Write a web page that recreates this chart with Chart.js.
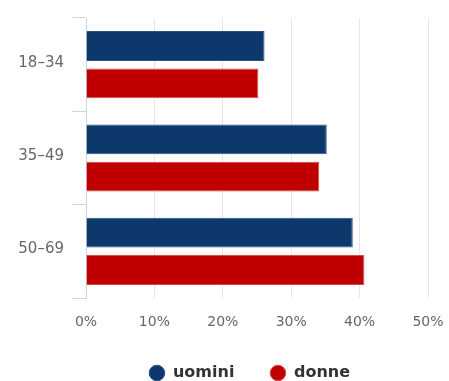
<!DOCTYPE html>
<html>
<head>
<meta charset="utf-8">
<script src="https://cdn.jsdelivr.net/npm/chart.js@4.4.1/dist/chart.umd.min.js"></script>
<style>
  html, body { margin: 0; padding: 0; background: #ffffff; }
  #wrap { width: 449px; height: 381px; position: relative; }
</style>
</head>
<body>
<div id="wrap"><canvas id="chart" width="449" height="381"></canvas></div>
<script>
// Age groups on the category axis
const ageGroups = ['18\u201334', '35\u201349', '50\u201369'];

// Shares per group, in percent
const menValues = [26.1, 35.2, 39.0];
const womenValues = [25.2, 34.1, 40.7];

// Percent axis ticks
const percentTicks = [0, 10, 20, 30, 40, 50];

const seriesNames = ['uomini', 'donne'];

const FONT = '"DejaVu Sans", Verdana, sans-serif';

// Nudge the legend row so it sits centred under the plot rather than the canvas
const legendShift = {
  id: 'legendShift',
  afterLayout(chart) {
    if (chart.legend) chart.legend.left += 71;
  }
};

new Chart(document.getElementById('chart'), {
  type: 'bar',
  data: {
    labels: ageGroups,
    datasets: [
      {
        label: seriesNames[0],
        data: menValues,
        backgroundColor: '#0c386c',
        borderColor: '#2f5286',
        borderWidth: 1,
        categoryPercentage: 0.8,
        barPercentage: 0.8
      },
      {
        label: seriesNames[1],
        data: womenValues,
        backgroundColor: '#c00000',
        borderColor: '#d84a4a',
        borderWidth: 1,
        categoryPercentage: 0.8,
        barPercentage: 0.8
      }
    ]
  },
  plugins: [legendShift],
  options: {
    indexAxis: 'y',
    responsive: false,
    animation: false,
    devicePixelRatio: 1,
    layout: { padding: { top: 18, right: 21, left: 0, bottom: -10 } },
    plugins: {
      tooltip: { enabled: false },
      title: { display: false },
      legend: {
        position: 'bottom',
        labels: {
          usePointStyle: true,
          pointStyle: 'circle',
          boxWidth: 16,
          boxHeight: 11,
          padding: 35.6,
          color: '#333333',
          font: { family: FONT, size: 16, weight: 'bold' }
        }
      }
    },
    scales: {
      x: {
        min: 0,
        max: 50,
        afterBuildTicks: (scale) => {
          scale.ticks = percentTicks.map(v => ({ value: v }));
        },
        grid: {
          color: (ctx) => (ctx.tick && ctx.tick.value === 0) ? 'rgba(0,0,0,0)' : '#e6e6e6',
          drawTicks: false,
          lineWidth: 1
        },
        border: { display: false },
        ticks: {
          padding: 16,
          color: '#666666',
          font: { family: FONT, size: 14 },
          callback: (v) => v + '%'
        },
        afterFit: (scale) => {
          scale.height = 31.4;
          scale.paddingLeft = 0;
          scale.paddingRight = 0;
        }
      },
      y: {
        grid: {
          offset: true,
          drawOnChartArea: false,
          drawTicks: true,
          tickLength: 14,
          color: '#ccd6eb',
          lineWidth: 1
        },
        border: { display: true, color: '#ccd6eb', width: 1 },
        ticks: {
          padding: 8,
          labelOffset: -2,
          color: '#666666',
          font: { family: FONT, size: 15 }
        },
        afterFit: (scale) => { scale.width = 86; }
      }
    }
  }
});
</script>
</body>
</html>
